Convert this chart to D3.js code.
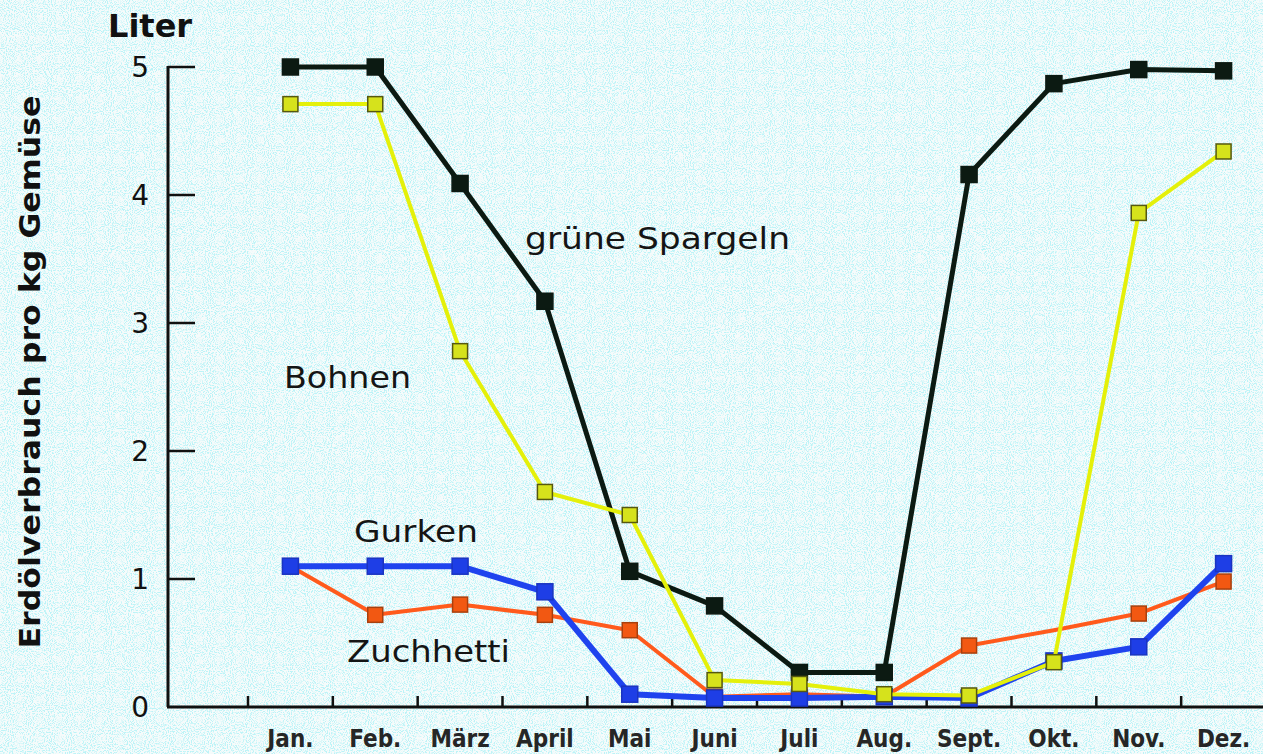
<!DOCTYPE html>
<html>
<head>
<meta charset="utf-8">
<script src="https://cdn.jsdelivr.net/npm/d3@7"></script>
<style>
  html, body { margin: 0; padding: 0; background: #eef8f8; }
  svg { display: block; }
</style>
</head>
<body>
<svg id="chart"></svg>
<script>
const W = 1263, H = 754;

// months along the x axis
const MONTHS = ['Jan.', 'Feb.', 'März', 'April', 'Mai', 'Juni', 'Juli', 'Aug.', 'Sept.', 'Okt.', 'Nov.', 'Dez.'];
const Y_TICKS = [0, 1, 2, 3, 4, 5];

// litres of oil per kg vegetable
const SPARGELN = [5.0, 5.0, 4.09, 3.17, 1.06, 0.79, 0.27, 0.27, 4.16, 4.87, 4.98, 4.97];
const BOHNEN   = [4.71, 4.71, 2.78, 1.68, 1.5, 0.21, 0.18, 0.1, 0.09, 0.35, 3.86, 4.34];
const GURKEN   = [1.1, 1.1, 1.1, 0.9, 0.1, 0.07, 0.07, 0.08, 0.07, 0.36, 0.47, 1.12];
const ZUCCHINI = [1.1, 0.72, 0.8, 0.72, 0.6, 0.08, 0.1, 0.08, 0.48, 0.6, 0.73, 0.98];

// draw order matters: later series sit on top
const SERIES = [
  { name: 'grüne Spargeln', values: SPARGELN, line: '#0c1a12', lw: 5, fill: '#0c1a12', stroke: '#0c1a12', size: 16, noMark: [] },
  { name: 'Zuchhetti',      values: ZUCCHINI, line: '#ff5a1c', lw: 4, fill: '#f25812', stroke: '#a8400e', size: 15, noMark: ['Okt.'] },
  { name: 'Gurken',         values: GURKEN,   line: '#1f43ee', lw: 6, fill: '#1e3ee6', stroke: '#1a34c0', size: 16, noMark: [] },
  { name: 'Bohnen',         values: BOHNEN,   line: '#e4f00a', lw: 4, fill: '#d6e21c', stroke: '#565810', size: 15, noMark: [] },
];

const svg = d3.select('#chart').attr('width', W).attr('height', H);

// speckled paper background
const defs = svg.append('defs');
const noise = defs.append('filter').attr('id', 'speckle')
  .attr('x', 0).attr('y', 0).attr('width', '100%').attr('height', '100%');
noise.append('feTurbulence').attr('type', 'fractalNoise')
  .attr('baseFrequency', 0.95).attr('numOctaves', 1).attr('seed', 4).attr('result', 'n');
noise.append('feColorMatrix').attr('in', 'n').attr('type', 'matrix')
  .attr('values', '0 0 0 0 0.5  0 0 0 0 0.9  0 0 0 0 0.93  7 0 0 0 -3.4');

svg.append('rect').attr('width', W).attr('height', H).attr('fill', '#f6fbfb');
svg.append('rect').attr('width', W).attr('height', H).attr('filter', 'url(#speckle)');

const x = d3.scaleBand().domain(MONTHS).range([248, 1266]);
const y = d3.scaleLinear().domain([0, 5]).range([707, 67]);
const cx = m => x(m) + x.bandwidth() / 2;

const AXIS = '#111';

// y axis: line, inward ticks, labels on the left
svg.append('line')
  .attr('x1', 168).attr('x2', 168)
  .attr('y1', y(5) - 1).attr('y2', y(0))
  .attr('stroke', AXIS).attr('stroke-width', 3);

const yt = svg.append('g');
Y_TICKS.filter(d => d > 0).forEach(d => {
  yt.append('line')
    .attr('x1', 168).attr('x2', 195)
    .attr('y1', y(d)).attr('y2', y(d))
    .attr('stroke', AXIS).attr('stroke-width', 2.5);
});
Y_TICKS.forEach(d => {
  yt.append('text')
    .attr('x', 149).attr('y', y(d))
    .attr('text-anchor', 'end')
    .attr('dominant-baseline', 'central')
    .attr('font-family', 'DejaVu Sans, sans-serif')
    .attr('font-size', 28)
    .attr('fill', '#111')
    .text(d);
});

// x axis: baseline with upward ticks between months
svg.append('line')
  .attr('x1', 167).attr('x2', W)
  .attr('y1', y(0)).attr('y2', y(0))
  .attr('stroke', AXIS).attr('stroke-width', 3);

const xt = svg.append('g');
MONTHS.forEach(m => {
  xt.append('line')
    .attr('x1', x(m)).attr('x2', x(m))
    .attr('y1', y(0)).attr('y2', y(0) - 11)
    .attr('stroke', AXIS).attr('stroke-width', 2.5);
  xt.append('text')
    .attr('x', cx(m)).attr('y', 747)
    .attr('text-anchor', 'middle')
    .attr('font-family', 'Liberation Sans Narrow, DejaVu Sans Condensed, sans-serif')
    .attr('font-weight', 'bold')
    .attr('font-size', 24)
    .attr('fill', '#262626')
    .text(m);
});

// series lines and square markers
const line = d3.line()
  .x((d, i) => cx(MONTHS[i]))
  .y(d => y(d));

SERIES.forEach(s => {
  const g = svg.append('g');
  g.append('path')
    .datum(s.values)
    .attr('d', line)
    .attr('fill', 'none')
    .attr('stroke', s.line)
    .attr('stroke-width', s.lw)
    .attr('stroke-linejoin', 'round');

  const pts = s.values.map((v, i) => ({ m: MONTHS[i], v }))
    .filter(p => !s.noMark.includes(p.m));
  g.selectAll('rect')
    .data(pts)
    .join('rect')
    .attr('x', p => cx(p.m) - s.size / 2)
    .attr('y', p => y(p.v) - s.size / 2)
    .attr('width', s.size).attr('height', s.size)
    .attr('fill', s.fill)
    .attr('stroke', s.stroke)
    .attr('stroke-width', 1.5);
});

// titles
svg.append('text')
  .attr('x', 108).attr('y', 37)
  .attr('font-family', 'DejaVu Sans, sans-serif')
  .attr('font-weight', 'bold')
  .attr('font-size', 32)
  .attr('fill', '#111')
  .text('Liter');

svg.append('text')
  .attr('transform', 'translate(40,372) rotate(-90)')
  .attr('text-anchor', 'middle')
  .attr('font-family', 'DejaVu Sans, sans-serif')
  .attr('font-weight', 'bold')
  .attr('font-size', 29)
  .attr('textLength', 553)
  .attr('lengthAdjust', 'spacingAndGlyphs')
  .attr('fill', '#111')
  .text('Erdölverbrauch pro kg Gemüse');

// series name labels placed next to their lines
const LABELS = [
  { text: 'grüne Spargeln', x: 525, y: 249, w: 265 },
  { text: 'Bohnen',         x: 284, y: 388, w: 127 },
  { text: 'Gurken',         x: 354, y: 542, w: 124 },
  { text: 'Zuchhetti',      x: 347, y: 662, w: 163 },
];
LABELS.forEach(l => {
  svg.append('text')
    .attr('x', l.x).attr('y', l.y)
    .attr('font-family', 'DejaVu Sans, sans-serif')
    .attr('font-size', 31)
    .attr('textLength', l.w)
    .attr('lengthAdjust', 'spacingAndGlyphs')
    .attr('fill', '#151515')
    .text(l.text);
});
</script>
</body>
</html>
